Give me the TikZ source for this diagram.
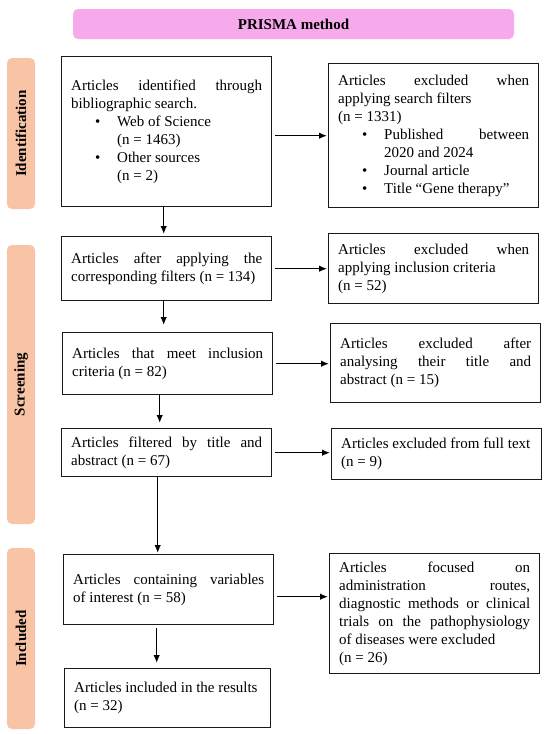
\documentclass[tikz,border=0pt]{standalone}
\usepackage{fontspec}
\setmainfont{Liberation Serif}
\usepackage{enumitem}
\usepackage{tikz}
\usetikzlibrary{arrows.meta}

\definecolor{titlepink}{RGB}{246,170,235}
\definecolor{stagepeach}{RGB}{249,196,166}

\setlist[itemize]{nosep, leftmargin=46pt, labelwidth=22pt, labelsep=0pt, align=left, label=\textbullet}
\hyphenpenalty=10000 \exhyphenpenalty=10000
\tolerance=10000 \hbadness=10000

\tikzset{
  box/.style={draw=black!90, line width=1.4pt, anchor=north west, text width=191pt,
    inner xsep=9.5pt, inner ysep=4pt, align=justify, font=\fontsize{15}{18}\selectfont},
  stage/.style={fill=stagepeach, rounded corners=5pt, rotate=90, minimum height=28pt,
    inner sep=0pt, font=\fontsize{15}{18}\selectfont\bfseries},
  flow/.style={->, line width=1.3pt, shorten <=3pt, shorten >=1pt},
}

\begin{document}
\begin{tikzpicture}[x=1pt, y=-1pt, >={Latex[length=8pt,width=6.5pt]}]
\useasboundingbox (0,0) rectangle (550,734);

% heading and stages
\node[fill=titlepink, rounded corners=5pt, minimum width=441pt, minimum height=30pt,
  font=\fontsize{15}{18}\selectfont\bfseries] (heading) at (293.5,24) {PRISMA method};
\node[stage, minimum width=151pt] (ident) at (21,133.5) {Identification};
\node[stage, minimum width=279pt] (screen) at (21,384.5) {Screening};
\node[stage, minimum width=181pt] (incl) at (21,638.5) {Included};

% left column
\node[box, minimum height=150pt] (found) at (61,56) {Articles identified through \linebreak bibliographic search.
\begin{itemize}
\item Web of Science\newline (n = 1463)
\item Other sources\newline (n = 2)
\end{itemize}\vspace{12pt}};
\node[box, minimum height=64pt] (filtered) at (61,236) {Articles after applying the \linebreak corresponding filters (n = 134)};
\node[box, minimum height=62pt] (eligible) at (62,332) {Articles that meet inclusion \linebreak criteria (n = 82)};
\node[box, minimum height=48pt] (screened) at (61,428) {Articles filtered by title and \linebreak abstract (n = 67)};
\node[box, minimum height=70pt] (variables) at (63,554) {Articles containing variables \linebreak of interest (n = 58)};
\node[box, text width=187pt, minimum height=59pt] (results) at (64,668) {Articles included in the results\newline (n = 32)};

% right column
\node[box, minimum height=144pt] (exfilter) at (328,63) {Articles excluded when \linebreak applying search filters\newline (n = 1331)
\begin{itemize}
\item Published between \linebreak 2020 and 2024
\item Journal article
\item Title “Gene therapy”
\end{itemize}};
\node[box, minimum height=70pt] (excrit) at (328,233) {Articles excluded when \linebreak applying inclusion criteria\newline (n = 52)};
\node[box, minimum height=79pt] (exabstract) at (330,323) {Articles excluded after \linebreak analysing their title and \linebreak abstract (n = 15)};
\node[box, minimum height=51pt] (exfull) at (331,428) {Articles excluded from full text\newline (n = 9)};
\node[box, minimum height=120pt] (exroutes) at (329,553) {Articles focused on \linebreak administration routes, \linebreak diagnostic methods or clinical \linebreak trials on the pathophysiology \linebreak of diseases were excluded\newline (n = 26)};

% down the left column
\draw[flow, shorten <=0pt, shorten >=2pt] ([xshift=-3pt]found.south) -- ([xshift=-3pt]found.south |- filtered.north);
\draw[flow, shorten <=0pt, shorten >=7pt] ([xshift=-3pt]filtered.south) -- ([xshift=-3pt]filtered.south |- eligible.north);
\draw[flow, shorten <=0pt, shorten >=5pt] ([xshift=-8pt]eligible.south) -- ([xshift=-8pt]eligible.south |- screened.north);
\draw[flow, shorten <=0pt, shorten >=1pt] ([xshift=-9pt]screened.south) -- ([xshift=-9pt]screened.south |- variables.north);
\draw[flow, shorten <=3pt, shorten >=5pt] ([xshift=-12pt]variables.south) -- ([xshift=-12pt]variables.south |- results.north);

% across to the exclusions
\draw[flow] (found.east |- exfilter.west) -- (exfilter.west);
\draw[flow] (filtered.east) -- (filtered.east -| excrit.west);
\draw[flow] (eligible.east) -- (eligible.east -| exabstract.west);
\draw[flow] (screened.east) -- (screened.east -| exfull.west);
\draw[flow] ([yshift=-7pt]variables.east) -- ([yshift=-7pt]variables.east -| exroutes.west);
\end{tikzpicture}
\end{document}
